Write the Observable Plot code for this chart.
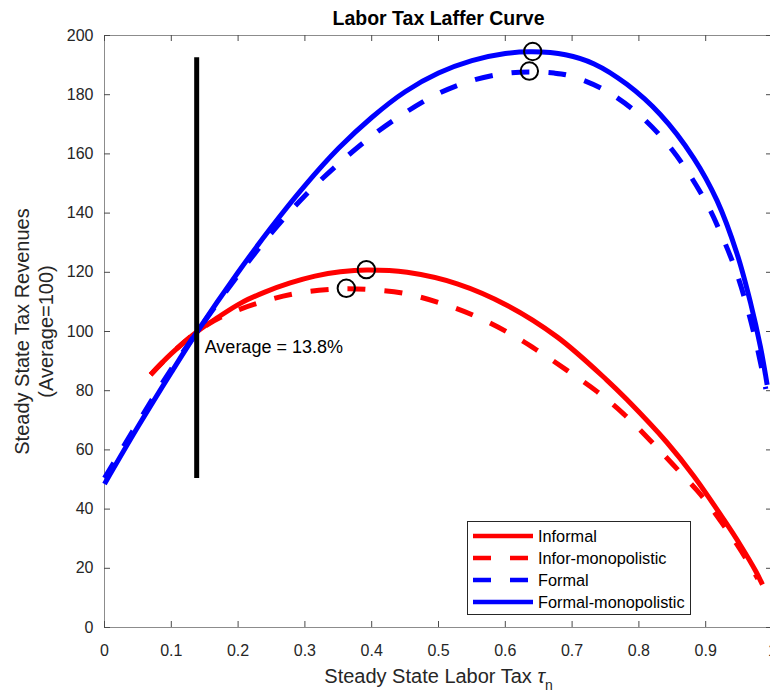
<!DOCTYPE html>
<html>
<head>
<meta charset="utf-8">
<script src="https://cdn.jsdelivr.net/npm/d3@7"></script>
<script src="https://cdn.jsdelivr.net/npm/@observablehq/plot@0.6"></script>
<style>
  body { margin: 0; background: #fff; }
  #wrap { position: relative; width: 770px; height: 694px; overflow: hidden; background: #fff;
          font-family: "Liberation Sans", Arial, Helvetica, sans-serif; }
  #legend { position: absolute; left: 467px; top: 521px; width: 222px; height: 92px;
            border: 1px solid #262626; background: #fff; }
  .row { position: absolute; left: 0; height: 22px; display: flex; align-items: center; }
  .row svg { margin-left: 5px; display: block; }
  .row span { margin-left: 5px; font-size: 16.3px; color: #000; white-space: nowrap; }
</style>
</head>
<body>
<div id="wrap"></div>
<script>
// ---------------- data ----------------
const chartTitle = "Labor Tax Laffer Curve";
const xLabelText = "Steady State Labor Tax";
const xLabelSymbol = "τ";
const xLabelSub = "n";
const yLabelLines = ["Steady State Tax Revenues", "(Average=100)"];

const xTicks = [0, 0.1, 0.2, 0.3, 0.4, 0.5, 0.6, 0.7, 0.8, 0.9, 1];
const xTickLabels = ["0", "0.1", "0.2", "0.3", "0.4", "0.5", "0.6", "0.7", "0.8", "0.9", "1"];
const yTicks = [0, 20, 40, 60, 80, 100, 120, 140, 160, 180, 200];

const seriesNames = ["Informal", "Infor-monopolistic", "Formal", "Formal-monopolistic"];

// Informal (red solid)
const informalX = [0.069, 0.1, 0.139, 0.17, 0.204, 0.24, 0.278, 0.315, 0.353, 0.393, 0.453, 0.528, 0.603, 0.678, 0.752, 0.782, 0.842, 0.882, 0.927, 0.952, 0.975, 0.985];
const informalY = [85.4, 92.5, 100, 104.8, 109.6, 113.3, 116.4, 118.7, 120.2, 120.8, 120.0, 116.1, 108.8, 98.1, 83.6, 77.0, 62.5, 51.2, 36.5, 27.8, 19.0, 14.5];

// Infor-monopolistic (red dashed)
const inforMonoX = [0.069, 0.1, 0.139, 0.174, 0.234, 0.288, 0.338, 0.362, 0.393, 0.448, 0.503, 0.553, 0.603, 0.648, 0.693, 0.738, 0.777, 0.817, 0.852, 0.887, 0.907, 0.930, 0.947, 0.965, 0.978];
const inforMonoY = [85.4, 92.5, 100, 104.8, 109.9, 112.9, 114.2, 114.4, 114.2, 112.9, 109.6, 105.4, 99.8, 93.6, 86.8, 79.6, 72.2, 63.2, 54.8, 46.3, 40.8, 33.5, 28.0, 21.5, 16.5];

// Formal (blue dashed)
const formalX = [0, 0.05, 0.1, 0.139, 0.2, 0.25, 0.3, 0.35, 0.4, 0.45, 0.5, 0.55, 0.6, 0.636, 0.673, 0.7, 0.75, 0.8, 0.85, 0.9, 0.925, 0.945, 0.962, 0.977, 0.99];
const formalY = [50.5, 69.2, 87.3, 100, 119.0, 133.3, 145.9, 156.6, 166.0, 173.9, 180.4, 184.8, 187.2, 187.7, 187.3, 186.2, 181.4, 173.3, 161.3, 143.9, 131.9, 120.6, 108.2, 94.7, 80.6];

// Formal-monopolistic (blue solid)
const formalMonoX = [0, 0.05, 0.1, 0.139, 0.2, 0.25, 0.3, 0.35, 0.4, 0.45, 0.5, 0.55, 0.6, 0.64, 0.69, 0.733, 0.782, 0.832, 0.882, 0.917, 0.947, 0.967, 0.982, 0.992];
const formalMonoY = [48.5, 67.8, 86.2, 100, 120.0, 135.3, 149.3, 161.8, 172.3, 181.0, 187.3, 191.5, 193.9, 194.5, 193.5, 190.4, 183.5, 173.3, 158.6, 144.2, 126.2, 109.8, 94.8, 82.0];

// Peak markers (one per series, same order as seriesNames)
const peakX = [0.392, 0.362, 0.636, 0.641];
const peakY = [120.9, 114.6, 188.0, 194.6];

// Average tax line
const avgTax = 0.138;
const avgLineY = [50.3, 192.5];
const avgLevel = 100;
const avgLabel = "Average = 13.8%";

// ---------------- styles ----------------
const FONT = '"Liberation Sans", Arial, Helvetica, sans-serif';
const RED = "#ff0000", BLUE = "#0000ff";
const DASH = "18,19";
const seriesStyle = [
  {color: RED, dash: null},
  {color: RED, dash: DASH},
  {color: BLUE, dash: DASH},
  {color: BLUE, dash: null}
];

const rows = (xs, ys) => xs.map((x, i) => ({x, y: ys[i]}));
const seriesData = [
  rows(informalX, informalY),
  rows(inforMonoX, inforMonoY),
  rows(formalX, formalY),
  rows(formalMonoX, formalMonoY)
];
const peaks = rows(peakX, peakY);
const tickLabelOf = new Map(xTicks.map((t, i) => [t, xTickLabels[i]]));

const lineMark = (k) => Plot.line(seriesData[k], {
  x: "x", y: "y", curve: "catmull-rom",
  stroke: seriesStyle[k].color, strokeWidth: 5,
  strokeDasharray: seriesStyle[k].dash, strokeLinecap: "butt", strokeLinejoin: "round"
});

const TICK = "#4a4a4a";
const chart = Plot.plot({
  width: 770, height: 694,
  marginLeft: 104, marginRight: -2, marginTop: 35, marginBottom: 67,
  style: {fontFamily: FONT, background: "#fff", overflow: "hidden"},
  x: {domain: [0, 1]},
  y: {domain: [0, 200]},
  marks: [
    Plot.frame({stroke: "#8c8c8c", strokeWidth: 1}),
    // inward ticks on all four sides
    Plot.ruleY(yTicks, {y: d => d, x1: 0, x2: 0, insetRight: -6, stroke: TICK}),
    Plot.ruleY(yTicks, {y: d => d, x1: 1, x2: 1, insetLeft: -6, stroke: TICK}),
    Plot.ruleX(xTicks, {x: d => d, y1: 0, y2: 0, insetTop: -6, stroke: TICK}),
    Plot.ruleX(xTicks, {x: d => d, y1: 200, y2: 200, insetBottom: -6, stroke: TICK}),
    Plot.axisX(xTicks, {tickSize: 0, tickPadding: 17, fontSize: 16, fill: "#262626",
      tickFormat: d => tickLabelOf.get(d), label: null}),
    Plot.axisY(yTicks, {tickSize: 0, tickPadding: 11, fontSize: 16, fill: "#262626", label: null}),
    lineMark(0), lineMark(1), lineMark(2), lineMark(3),
    Plot.dot(peaks, {x: "x", y: "y", r: 8.7, stroke: "#000", strokeWidth: 2, fill: "none"}),
    Plot.ruleX([avgTax], {x: d => d, y1: avgLineY[0], y2: avgLineY[1], stroke: "#000", strokeWidth: 5}),
    Plot.text([avgLabel], {x: () => avgTax, y: () => avgLevel, text: d => d, dx: 8, dy: 16,
      textAnchor: "start", fontSize: 18, fill: "#000"}),
    // title
    Plot.text([chartTitle], {text: d => d, frameAnchor: "top", dy: -17, lineAnchor: "middle",
      textAnchor: "middle", fontSize: 19.5, fontWeight: "bold", fill: "#000"}),
    // x label
    Plot.text([xLabelText], {text: d => d, frameAnchor: "bottom", dy: 49, lineAnchor: "middle",
      textAnchor: "middle", fontSize: 20, fill: "#262626"}),
    // y label (two lines)
    Plot.text([yLabelLines[0]], {text: d => d, frameAnchor: "left", dx: -82, rotate: -90,
      textAnchor: "middle", lineAnchor: "middle", fontSize: 20, fill: "#262626"}),
    Plot.text([yLabelLines[1]], {text: d => d, frameAnchor: "left", dx: -58, rotate: -90,
      textAnchor: "middle", lineAnchor: "middle", fontSize: 20, fill: "#262626"})
  ]
});

// add the tau with subscript n to the x label
const NS = "http://www.w3.org/2000/svg";
for (const t of chart.querySelectorAll("text")) {
  if (t.textContent === xLabelText) {
    t.appendChild(document.createTextNode(" "));
    const tau = document.createElementNS(NS, "tspan");
    tau.setAttribute("font-style", "italic");
    tau.textContent = xLabelSymbol;
    const sub = document.createElementNS(NS, "tspan");
    sub.setAttribute("dy", "7");
    sub.setAttribute("font-size", "14");
    sub.textContent = xLabelSub;
    t.appendChild(tau);
    t.appendChild(sub);
    break;
  }
}

const wrap = document.getElementById("wrap");
wrap.appendChild(chart);

// legend
const legend = document.createElement("div");
legend.id = "legend";
const rowTops = [3, 25, 47, 69];
seriesNames.forEach((name, k) => {
  const r = document.createElement("div");
  r.className = "row";
  r.style.top = rowTops[k] + "px";
  const dashAttr = seriesStyle[k].dash ? ` stroke-dasharray="${seriesStyle[k].dash}"` : "";
  r.innerHTML = `<svg width="60" height="8"><line x1="0" x2="60" y1="4" y2="4" stroke="${seriesStyle[k].color}" stroke-width="4.5"${dashAttr}/></svg><span>${name}</span>`;
  legend.appendChild(r);
});
wrap.appendChild(legend);
</script>
</body>
</html>
